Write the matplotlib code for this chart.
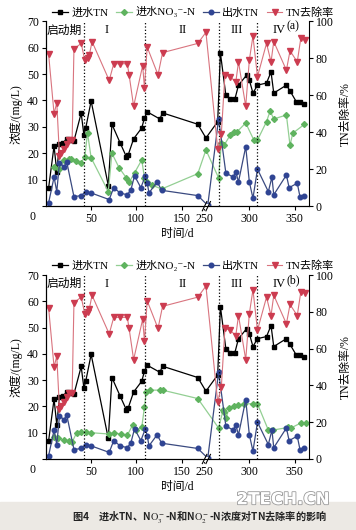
import matplotlib.pyplot as plt
from matplotlib.lines import Line2D
from matplotlib.patches import Rectangle
import matplotlib.patheffects as pe

plt.rcParams['font.family'] = ['Liberation Serif', 'Noto Sans CJK SC', 'DejaVu Sans']
plt.rcParams['mathtext.fontset'] = 'stix'
plt.rcParams['axes.linewidth'] = 0.8

# 数据 (x 轴在 175~250 d 之间断开)
tn_day = [3, 9, 12, 15, 19, 23, 28, 31, 39, 42, 44, 50, 69, 73, 82, 89, 91, 97, 106, 109,
          112, 126, 129, 168, 252, 265, 268, 274, 279, 284, 288, 297, 300, 304, 309, 319,
          324, 327, 341, 345, 352, 356, 361]
tn_in = [7, 22.8, 13, 23.6, 24, 25.5, 25, 24.7, 35.2, 27, 29.5, 39.8, 7.8, 31, 24, 18.7,
         19.4, 25.5, 29.6, 33.4, 35.7, 33, 35.3, 31, 25.8, 32, 58, 42, 40.5, 40.5, 45.8,
         49.6, 47.7, 42.8, 45.8, 46.6, 50.8, 42.8, 45.8, 43.6, 39.5, 39.5, 38.7]

rate_day = [3, 9, 12, 15, 17, 20, 23, 26, 29, 31, 39, 43, 46, 48, 51, 70, 75, 82, 90, 92,
            97, 107, 109, 112, 124, 129, 168, 252, 265, 269, 273, 279, 285, 288, 296, 300,
            304, 309, 319, 324, 327, 341, 345, 353, 357, 362]
tn_rate = [82, 50, 56, 27, 29, 31, 33.5, 36, 35.7, 85, 88, 79, 80, 81.6, 89, 68, 77, 77, 77,
           71, 54, 76, 64, 86, 71, 83, 88, 94, 31, 39, 71, 70, 67, 78, 54, 79, 92, 70, 88,
           78, 89, 73.5, 84, 78, 91, 90]

eff_day = [3, 9, 12, 15, 20, 23, 31, 39, 44, 50, 70, 75, 82, 90, 94, 98, 105, 110, 112, 114,
           123, 128, 168, 254, 266, 274, 282, 285, 288, 296, 300, 304, 309, 321, 325, 327,
           341, 344, 353, 356, 361]
tn_eff = [1.3, 11, 5.5, 16.4, 15, 16.8, 3.6, 4, 5.5, 5, 2.5, 7, 5, 4.3, 6.2, 11.5, 7, 11.5,
          8.9, 5, 9.2, 6, 4, 0.3, 33, 12.6, 11, 13, 9.2, 22.5, 9.2, 3, 14, 5.5, 11, 4.3,
          11.8, 7, 8.7, 3.6, 4]

no3_day = [9, 15, 20, 25, 28, 33, 39, 43, 46, 50, 69, 73, 81, 89, 92, 98, 106, 109, 112, 117,
           128, 168, 252, 266, 269, 272, 279, 283, 286, 296, 305, 309, 319, 323, 327, 341,
           345, 348, 361]
no3_in = [15, 14, 17.5, 18, 18, 17, 16.4, 18.7, 27.7, 18.3, 5.5, 20, 14.5, 10.7, 9, 12.6,
          17.5, 10.7, 9, 8, 6.5, 12.3, 21.3, 10.7, 24, 23, 27, 28, 28, 31.5, 25, 25, 32, 36,
          33, 34.5, 23, 27.6, 31]

no2_day = [9, 13, 20, 25, 29, 34, 39, 44, 50, 70, 75, 83, 90, 96, 100, 106, 109, 111, 115,
           126, 129, 168, 266, 271, 272, 274, 278, 283, 287, 294, 304, 309, 321, 326, 343,
           346, 357, 363]
no2_in = [8.4, 8, 7.2, 7, 6.4, 10, 10.3, 10.3, 10, 9.5, 10, 9.5, 9, 13, 11, 12, 19.8, 25.5,
          26.2, 26.2, 26.2, 23, 11.8, 18.6, 18, 15.6, 19.4, 20, 20.5, 21, 21, 21, 11, 11, 12,
          11.8, 13.7, 13.7]

stage_lines = [42, 110, 266, 309]
stage_names = ['启动期', 'I', 'II', 'III', 'IV']
stage_x = [20, 67, 151, 211, 258]
xtick_days = [50, 100, 150, 250, 300, 350]


def pos(days):
    # 断轴: 250 d 以后整体左移 75 d
    return [d if d <= 175 else d - 75 for d in days]


c_tn = 'black'
c_no = '#5fb35f'
c_no_line = '#93cf93'
c_eff = '#2f4493'
c_eff_line = '#3a4a80'
c_rate = '#cc3c50'
c_rate_line = '#d9747f'


def draw(ax, g_day, g_val, g_label, tag):
    ax2 = ax.twinx()
    ax.plot(pos(tn_day), tn_in, color=c_tn, lw=0.9, marker='s', ms=3)
    ax.plot(pos(g_day), g_val, color=c_no_line, lw=0.9, marker='D', ms=3,
            mfc=c_no, mec=c_no)
    ax.plot(pos(eff_day), tn_eff, color=c_eff_line, lw=0.9, marker='o', ms=3.3,
            mfc=c_eff, mec=c_eff)
    ax2.plot(pos(rate_day), tn_rate, color=c_rate_line, lw=0.8, marker='v', ms=4,
             mfc=c_rate, mec=c_rate)

    for d in pos(stage_lines):
        ax.axvline(d, color='black', ls=':', lw=0.9)
    for x, s in zip(stage_x, stage_names):
        ax.text(x, 0.95, s, transform=ax.get_xaxis_transform(), ha='center', va='center',
                fontsize=9 if s != '启动期' else 8.5)
    ax.text(0.965, 0.97, tag, transform=ax.transAxes, ha='right', va='center', fontsize=8.5)

    ax.set_xlim(0, 291)
    ax.set_ylim(0, 70)
    ax2.set_ylim(0, 100)
    ax.set_yticks(range(0, 71, 10))
    ax.set_yticklabels([''] + [str(v) for v in range(10, 71, 10)])
    ax2.set_yticks(range(0, 101, 20))
    ax.set_xticks(pos(xtick_days))
    ax.set_xticklabels([str(d) for d in xtick_days])
    ax.text(-0.05, -0.06, '0', transform=ax.transAxes, ha='center', va='center', fontsize=8.5)

    for a in (ax, ax2):
        a.spines['top'].set_visible(False)
        a.tick_params(direction='out', length=3, width=0.8, labelsize=8.5, pad=2)
    ax.spines['right'].set_visible(False)

    ax.set_xlabel('时间/d', fontsize=8.5, labelpad=2)
    ax.set_ylabel('浓度/(mg/L)', fontsize=8.5, labelpad=3)
    ax2.set_ylabel('TN去除率/%', fontsize=8.5, labelpad=4)

    # 断轴标记
    tr = ax.get_xaxis_transform()
    ax.add_patch(Rectangle((175, -0.01), 4, 0.02, transform=tr, color='white',
                           clip_on=False, zorder=5))
    for x0 in (173, 177):
        ax.plot([x0, x0 + 5], [-0.025, 0.025], transform=tr, color='black', lw=0.8,
                clip_on=False, zorder=6)

    handles = [
        Line2D([], [], color=c_tn, lw=0.9, marker='s', ms=3),
        Line2D([], [], color=c_no_line, lw=0.9, marker='D', ms=3, mfc=c_no, mec=c_no),
        Line2D([], [], color=c_eff_line, lw=0.9, marker='o', ms=3.3, mfc=c_eff, mec=c_eff),
        Line2D([], [], color=c_rate_line, lw=0.8, marker='v', ms=4, mfc=c_rate, mec=c_rate),
    ]
    labels = ['进水TN', g_label, '出水TN', 'TN去除率']
    ax2.legend(handles, labels, loc='lower center', bbox_to_anchor=(0.56, 0.99), ncol=4,
               frameon=False, fontsize=8, handlelength=1.4, handletextpad=0.3,
               columnspacing=0.7, borderaxespad=0.1)


fig = plt.figure(figsize=(3.56, 5.30), dpi=100)
ax_a = fig.add_axes([0.129, 0.611, 0.739, 0.349])
ax_b = fig.add_axes([0.129, 0.134, 0.739, 0.347])
draw(ax_a, no3_day, no3_in, '进水NO₃⁻-N', '(a)')
draw(ax_b, no2_day, no2_in, '进水NO₂⁻-N', '(b)')

fig.patches.append(Rectangle((0, 0), 1, 0.053, transform=fig.transFigure,
                             color='#ece9e4', zorder=0))
fig.text(0.56, 0.024, '图4　进水TN、N$\\mathrm{O}_3^-$-N和N$\\mathrm{O}_2^-$-N浓度对TN去除率的影响',
         ha='center', va='center', fontsize=7.3, fontweight='bold', color='#222222',
         family=['Noto Sans CJK SC', 'DejaVu Sans'])
fig.text(0.795, 0.058, '2TECH.CN', ha='center', va='center', fontsize=12, fontweight='bold',
         color='white', family=['DejaVu Sans'],
         path_effects=[pe.withStroke(linewidth=1.2, foreground='#9a9a9a')])

fig.savefig('out.png', dpi=100)
